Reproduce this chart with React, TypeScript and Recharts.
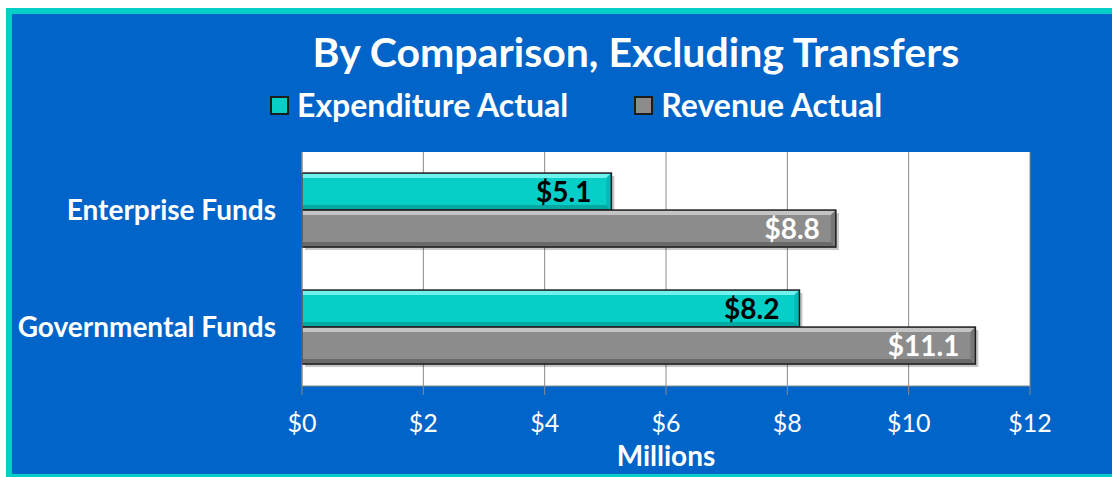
import { BarChart, Bar, XAxis, YAxis, CartesianGrid, LabelList } from 'recharts';

const categories = ['Enterprise Funds', 'Governmental Funds'];
const expenditureActual = [5.1, 8.2];
const revenueActual = [8.8, 11.1];
const seriesNames = ['Expenditure Actual', 'Revenue Actual'];
const xTicks = [0, 2, 4, 6, 8, 10, 12];
const bandEdges = [0, 1, 2];

const data = categories.map((name, i) => ({
  name,
  exp: expenditureActual[i],
  rev: revenueActual[i],
}));

const FONT = 'Lato, "Open Sans", sans-serif';
const BLUE = '#0064c8';
const CYAN = '#06cfc8';
const GRAY = '#8c8c8c';

// bar with a bevelled edge, like the Office preset
function bevel(light: string, dark: string, side: string) {
  return function BevelBar(props: any) {
    const { x, y, width, height, fill } = props;
    if (!width || width <= 0) return <g />;
    const b = 5;
    const r = x + width;
    const bt = y + height;
    return (
      <g>
        <rect x={x + 3} y={y + 3} width={width} height={height} fill="rgba(0,0,0,0.22)" />
        <rect x={x} y={y} width={width} height={height} fill={fill} />
        <polygon points={`${x},${y} ${r},${y} ${r - b},${y + b} ${x},${y + b}`} fill={light} />
        <polygon points={`${x},${bt} ${r},${bt} ${r - b},${bt - b} ${x},${bt - b}`} fill={dark} />
        <polygon points={`${r},${y} ${r},${bt} ${r - b},${bt - b} ${r - b},${y + b}`} fill={side} />
        <rect x={x} y={y} width={width} height={height} fill="none" stroke="#1c1c1c" strokeWidth={1.5} />
      </g>
    );
  };
}

const CyanBar = bevel('#6ff2ee', '#04a8a2', '#03b9b3');
const GrayBar = bevel('#c4c4c4', '#6a6a6a', '#777777');

const money = (v: any) => `$${Number(v).toFixed(1)}`;

export default function App() {
  return (
    <div
      style={{
        position: 'absolute',
        left: 0,
        top: 0,
        width: 1112,
        height: 477,
        overflow: 'hidden',
        fontFamily: FONT,
        background: '#fff',
      }}
    >
      <div
        style={{
          position: 'absolute',
          left: 6,
          top: 8,
          right: 0,
          bottom: 0,
          background: BLUE,
          borderTop: `6px solid ${CYAN}`,
          borderLeft: `6px solid ${CYAN}`,
          borderBottom: `3px solid ${CYAN}`,
        }}
      />
      <div
        style={{
          position: 'absolute',
          left: 0,
          width: 1272,
          top: 27,
          textAlign: 'center',
          color: '#fff',
          fontSize: 41,
          fontWeight: 700,
          lineHeight: '50px',
          whiteSpace: 'nowrap',
        }}
      >
        By Comparison, Excluding Transfers
      </div>
      <div
        style={{
          position: 'absolute',
          left: 270,
          top: 88,
          display: 'flex',
          alignItems: 'center',
          color: '#fff',
          fontSize: 32,
          fontWeight: 700,
          lineHeight: '34px',
          whiteSpace: 'nowrap',
        }}
      >
        {seriesNames.map((s, i) => (
          <div key={s} style={{ display: 'flex', alignItems: 'center', marginRight: i === 0 ? 66 : 0 }}>
            <span
              style={{
                display: 'inline-block',
                width: 15,
                height: 15,
                border: '2px solid #1c1c1c',
                background: i === 0 ? CYAN : GRAY,
                marginRight: 8,
              }}
            />
            {s}
          </div>
        ))}
      </div>
      <BarChart
        width={1112}
        height={477}
        data={data}
        layout="vertical"
        margin={{ top: 152, right: 82, bottom: 0, left: 0 }}
        barCategoryGap="18%"
        barGap={0}
        style={{ position: 'absolute', left: 0, top: 0 }}
      >
        <CartesianGrid yAxisId="cat" horizontal={false} stroke="#8a8a8a" fill="#ffffff" />
        <XAxis
          type="number"
          domain={[0, 12]}
          ticks={xTicks}
          tickFormatter={(v) => `$${v}`}
          stroke="#8a8a8a"
          tickSize={9}
          tickMargin={19}
          height={91}
          tick={{ fill: '#fff', fontSize: 25, fontFamily: FONT }}
          label={{
            value: 'Millions',
            position: 'insideBottom',
            offset: 11,
            fill: '#fff',
            fontSize: 28,
            fontWeight: 700,
            fontFamily: FONT,
          }}
        />
        <YAxis
          yAxisId="edge"
          type="number"
          domain={[0, 2]}
          ticks={bandEdges}
          width={1}
          tick={false}
          tickSize={10}
          axisLine={false}
          stroke="#8a8a8a"
        />
        <YAxis
          yAxisId="cat"
          type="category"
          dataKey="name"
          width={301}
          tickLine={false}
          tickSize={0}
          tickMargin={26}
          stroke="#8a8a8a"
          tick={{ fill: '#fff', fontSize: 28, fontWeight: 700, fontFamily: FONT }}
        />
        <Bar yAxisId="cat" dataKey="exp" name={seriesNames[0]} fill={CYAN} shape={CyanBar} isAnimationActive={false}>
          <LabelList
            dataKey="exp"
            position="insideRight"
            offset={20}
            formatter={money}
            fill="#000"
            fontSize={28}
            fontWeight={700}
            fontFamily={FONT}
          />
        </Bar>
        <Bar yAxisId="cat" dataKey="rev" name={seriesNames[1]} fill={GRAY} shape={GrayBar} isAnimationActive={false}>
          <LabelList
            dataKey="rev"
            position="insideRight"
            offset={16}
            formatter={money}
            fill="#fff"
            fontSize={28}
            fontWeight={700}
            fontFamily={FONT}
          />
        </Bar>
      </BarChart>
    </div>
  );
}
